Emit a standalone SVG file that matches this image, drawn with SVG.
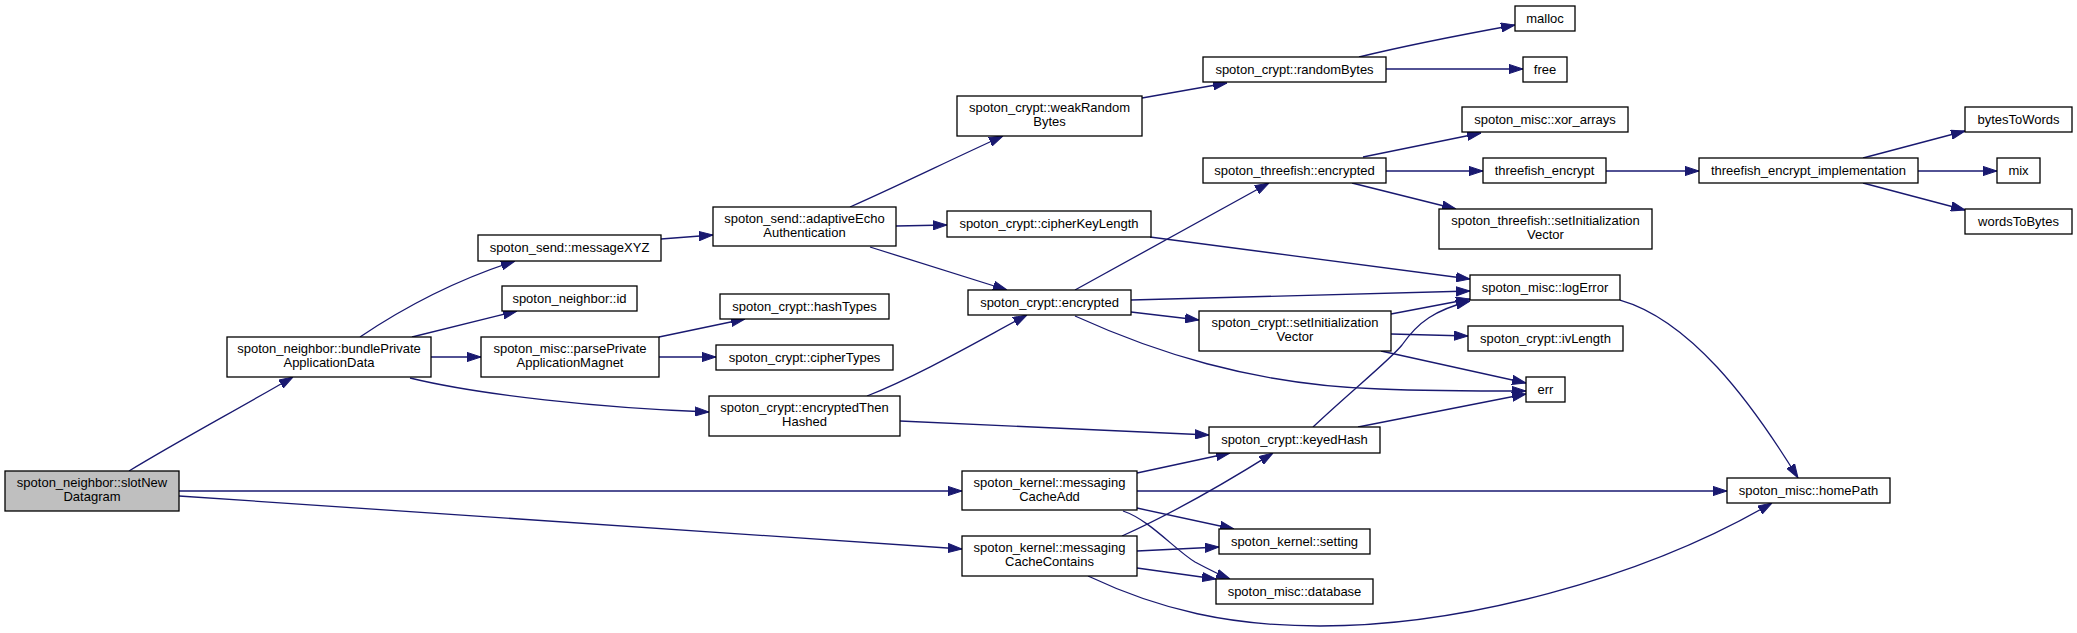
<svg xmlns="http://www.w3.org/2000/svg" width="2077" height="633" viewBox="0 0 2077 633">
<style>
.node rect{fill:#ffffff;stroke:#000000;stroke-width:1.3}
.node.root rect{fill:#bfbfbf}
.node text{font-family:"Liberation Sans",Arial,sans-serif;font-size:13px;fill:#000000;text-anchor:middle}
.edges path{fill:none;stroke:#191970;stroke-width:1.3;marker-end:url(#arrow)}
</style>
<defs>
<marker id="arrow" markerUnits="userSpaceOnUse" markerWidth="14" markerHeight="10" viewBox="0 0 14 10" refX="14" refY="5" orient="auto">
<path d="M0,0.4 L14,5 L0,9.6 z" fill="#191970" stroke="#191970" stroke-width="1"/>
</marker>
</defs>
<rect width="2077" height="633" fill="#ffffff"/>
<g class="edges" id="edges">
<path d="M129,471 C180,440 240,408 293,377"/>
<path d="M179,491 L962,491"/>
<path d="M179,496 L962,549"/>
<path d="M360,337 C400,310 450,282 515,261"/>
<path d="M412,337 C440,330 480,320 517,311"/>
<path d="M431,357 L481,357"/>
<path d="M410,378 C480,395 600,408 709,412"/>
<path d="M661,239 L713,235"/>
<path d="M659,337 L745,319"/>
<path d="M659,357 L716,357"/>
<path d="M850,207 C900,185 950,160 1003,136"/>
<path d="M896,226 L947,225"/>
<path d="M870,247 L1007,290"/>
<path d="M867,396 C920,375 980,340 1027,315"/>
<path d="M900,421 L1209,435"/>
<path d="M1137,473 L1230,453"/>
<path d="M1137,491 L1727,491"/>
<path d="M1137,508 L1234,529"/>
<path d="M1123,511 C1150,520 1175,550 1195,562 C1210,570 1220,575 1230,579"/>
<path d="M1122,536 C1180,510 1230,480 1273,453"/>
<path d="M1137,551 L1219,547"/>
<path d="M1137,568 L1216,579"/>
<path d="M1088,576 C1160,610 1230,626 1320,626 C1460,626 1640,580 1772,503"/>
<path d="M1142,98 L1227,83"/>
<path d="M1359,57 C1400,47 1460,35 1515,25"/>
<path d="M1386,69 L1523,69"/>
<path d="M1150,237 L1470,279"/>
<path d="M1075,290 L1269,183"/>
<path d="M1131,300 L1470,291"/>
<path d="M1131,312 L1199,320"/>
<path d="M1075,316 C1150,350 1250,385 1380,389 C1430,391 1480,391 1526,391"/>
<path d="M1363,157 L1481,133"/>
<path d="M1386,171 L1483,171"/>
<path d="M1352,183 L1456,209"/>
<path d="M1391,314 L1470,299"/>
<path d="M1391,334 L1468,336"/>
<path d="M1381,351 L1526,383"/>
<path d="M1313,427 C1350,392 1390,360 1402,345 C1418,322 1435,310 1470,301"/>
<path d="M1358,427 L1526,394"/>
<path d="M1620,300 C1690,320 1750,400 1798,478"/>
<path d="M1606,171 L1699,171"/>
<path d="M1863,158 L1965,131"/>
<path d="M1918,171 L1997,171"/>
<path d="M1863,183 L1965,210"/>
</g>
<g class="node root" id="slotNewDatagram"><rect x="5" y="471" width="174" height="40"/><text x="92" y="487">spoton_neighbor::slotNew</text><text x="92" y="501">Datagram</text></g>
<g class="node" id="bundlePrivateApplicationData"><rect x="227" y="337" width="204" height="40"/><text x="329" y="353">spoton_neighbor::bundlePrivate</text><text x="329" y="367">ApplicationData</text></g>
<g class="node" id="messageXYZ"><rect x="478" y="235" width="183" height="26"/><text x="569.5" y="252">spoton_send::messageXYZ</text></g>
<g class="node" id="neighborId"><rect x="502" y="286" width="135" height="25"/><text x="569.5" y="302.5">spoton_neighbor::id</text></g>
<g class="node" id="parsePrivateApplicationMagnet"><rect x="481" y="337" width="178" height="40"/><text x="570" y="353">spoton_misc::parsePrivate</text><text x="570" y="367">ApplicationMagnet</text></g>
<g class="node" id="adaptiveEchoAuthentication"><rect x="713" y="207" width="183" height="39"/><text x="804.5" y="223">spoton_send::adaptiveEcho</text><text x="804.5" y="237">Authentication</text></g>
<g class="node" id="hashTypes"><rect x="720" y="294" width="169" height="25"/><text x="804.5" y="310.5">spoton_crypt::hashTypes</text></g>
<g class="node" id="cipherTypes"><rect x="716" y="345" width="177" height="25"/><text x="804.5" y="361.5">spoton_crypt::cipherTypes</text></g>
<g class="node" id="encryptedThenHashed"><rect x="709" y="396" width="191" height="40"/><text x="804.5" y="412">spoton_crypt::encryptedThen</text><text x="804.5" y="426">Hashed</text></g>
<g class="node" id="weakRandomBytes"><rect x="957" y="96" width="185" height="40"/><text x="1049.5" y="112">spoton_crypt::weakRandom</text><text x="1049.5" y="126">Bytes</text></g>
<g class="node" id="cipherKeyLength"><rect x="947" y="211" width="204" height="26"/><text x="1049" y="228">spoton_crypt::cipherKeyLength</text></g>
<g class="node" id="cryptEncrypted"><rect x="968" y="290" width="163" height="25"/><text x="1049.5" y="306.5">spoton_crypt::encrypted</text></g>
<g class="node" id="messagingCacheAdd"><rect x="962" y="471" width="175" height="39"/><text x="1049.5" y="487">spoton_kernel::messaging</text><text x="1049.5" y="501">CacheAdd</text></g>
<g class="node" id="messagingCacheContains"><rect x="962" y="536" width="175" height="40"/><text x="1049.5" y="552">spoton_kernel::messaging</text><text x="1049.5" y="566">CacheContains</text></g>
<g class="node" id="randomBytes"><rect x="1203" y="57" width="183" height="25"/><text x="1294.5" y="73.5">spoton_crypt::randomBytes</text></g>
<g class="node" id="threefishEncrypted"><rect x="1203" y="158" width="183" height="25"/><text x="1294.5" y="174.5">spoton_threefish::encrypted</text></g>
<g class="node" id="cryptSetInitializationVector"><rect x="1199" y="311" width="192" height="40"/><text x="1295" y="327">spoton_crypt::setInitialization</text><text x="1295" y="341">Vector</text></g>
<g class="node" id="keyedHash"><rect x="1209" y="427" width="171" height="26"/><text x="1294.5" y="444">spoton_crypt::keyedHash</text></g>
<g class="node" id="kernelSetting"><rect x="1219" y="529" width="151" height="25"/><text x="1294.5" y="545.5">spoton_kernel::setting</text></g>
<g class="node" id="miscDatabase"><rect x="1216" y="579" width="157" height="25"/><text x="1294.5" y="595.5">spoton_misc::database</text></g>
<g class="node" id="malloc"><rect x="1515" y="6" width="60" height="25"/><text x="1545" y="22.5">malloc</text></g>
<g class="node" id="free"><rect x="1523" y="57" width="44" height="25"/><text x="1545" y="73.5">free</text></g>
<g class="node" id="xorArrays"><rect x="1462" y="107" width="166" height="25"/><text x="1545" y="123.5">spoton_misc::xor_arrays</text></g>
<g class="node" id="threefishEncrypt"><rect x="1483" y="158" width="123" height="25"/><text x="1544.5" y="174.5">threefish_encrypt</text></g>
<g class="node" id="threefishSetInitializationVector"><rect x="1439" y="209" width="213" height="40"/><text x="1545.5" y="225">spoton_threefish::setInitialization</text><text x="1545.5" y="239">Vector</text></g>
<g class="node" id="logError"><rect x="1470" y="275" width="150" height="25"/><text x="1545" y="291.5">spoton_misc::logError</text></g>
<g class="node" id="ivLength"><rect x="1468" y="326" width="155" height="25"/><text x="1545.5" y="342.5">spoton_crypt::ivLength</text></g>
<g class="node" id="err"><rect x="1526" y="377" width="39" height="25"/><text x="1545.5" y="393.5">err</text></g>
<g class="node" id="homePath"><rect x="1727" y="478" width="163" height="25"/><text x="1808.5" y="494.5">spoton_misc::homePath</text></g>
<g class="node" id="threefishEncryptImplementation"><rect x="1699" y="158" width="219" height="25"/><text x="1808.5" y="174.5">threefish_encrypt_implementation</text></g>
<g class="node" id="bytesToWords"><rect x="1965" y="107" width="107" height="25"/><text x="2018.5" y="123.5">bytesToWords</text></g>
<g class="node" id="mix"><rect x="1997" y="158" width="43" height="25"/><text x="2018.5" y="174.5">mix</text></g>
<g class="node" id="wordsToBytes"><rect x="1965" y="209" width="107" height="25"/><text x="2018.5" y="225.5">wordsToBytes</text></g>
</svg>
